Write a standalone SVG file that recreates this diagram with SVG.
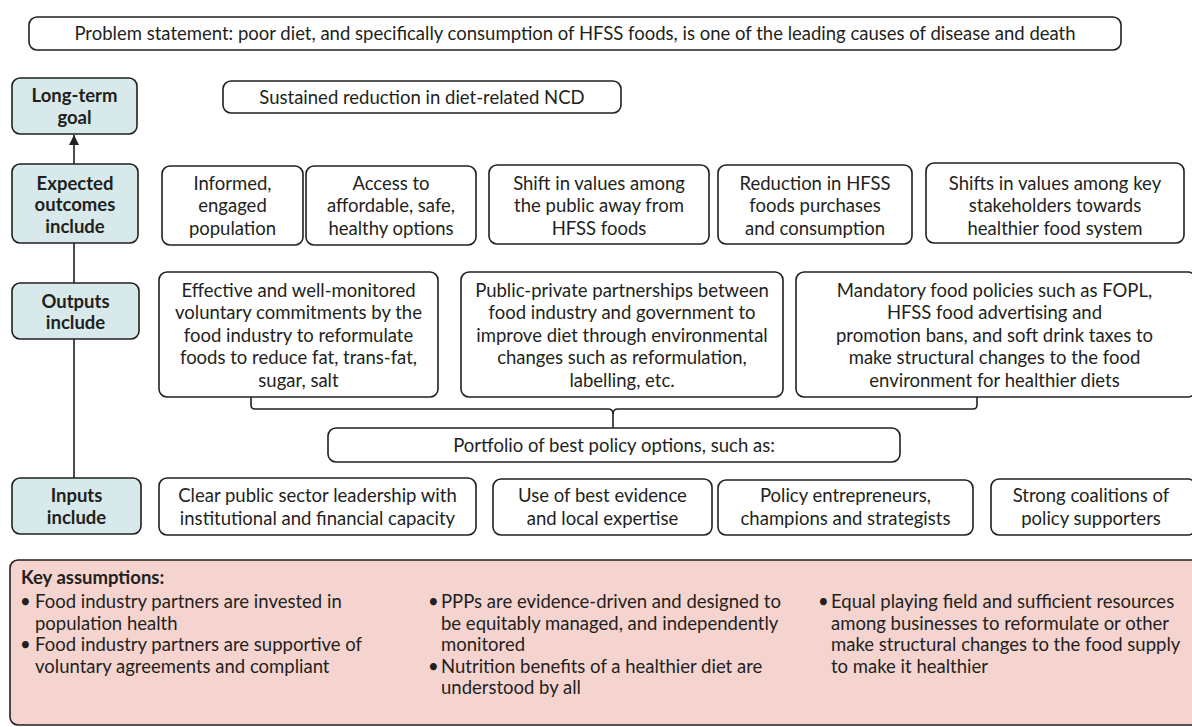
<svg xmlns="http://www.w3.org/2000/svg" width="1192" height="727" viewBox="0 0 1192 727">
<defs>
<style>
.box{fill:#fff;stroke:#231f20;stroke-width:1.6}
.lbl{fill:#d7e9ea;stroke:#231f20;stroke-width:1.6}
.ka{fill:#f5d4d0;stroke:#231f20;stroke-width:1.6}
.t{font-family:Lato,"Liberation Sans",sans-serif;font-size:18.5px;fill:#231f20;text-anchor:middle}
.b{font-family:Lato,"Liberation Sans",sans-serif;font-size:18.5px;font-weight:bold;fill:#231f20;text-anchor:middle}
.k{font-family:Lato,"Liberation Sans",sans-serif;font-size:18.5px;fill:#231f20}
.kb{font-family:Lato,"Liberation Sans",sans-serif;font-size:18.5px;font-weight:bold;fill:#231f20}
.ln{fill:none;stroke:#231f20;stroke-width:1.6}
</style>
<marker id="ah" viewBox="0 0 10 10" refX="10" refY="5" markerWidth="10" markerHeight="10" markerUnits="userSpaceOnUse" orient="auto">
<path d="M0,0 L10,5 L0,10 z" fill="#231f20"/>
</marker>
</defs>
<rect width="1192" height="727" fill="#fff"/>

<g id="connectors">
<line class="ln" x1="74" y1="164" x2="74" y2="135" marker-end="url(#ah)"/>
<line class="ln" x1="74" y1="243" x2="74" y2="283"/>
<line class="ln" x1="74" y1="339" x2="74" y2="478"/>
<path class="ln" d="M251,397 V405 Q251,409 255,409 H608 Q613,409 613,414 Q613,409 618,409 H973 Q977,409 977,405 V397"/>
<line class="ln" x1="613" y1="413" x2="613" y2="428"/>
</g>

<g id="problem">
<rect class="box" x="29" y="17" width="1092" height="33" rx="8"/>
<text class="t" x="575" y="40">Problem statement: poor diet, and specifically consumption of HFSS foods, is one of the leading causes of disease and death</text>
</g>

<g id="label-goal">
<rect class="lbl" x="12" y="78" width="125" height="56" rx="8"/>
<text class="b" x="74.5" y="101.5">Long-term</text>
<text class="b" x="74.5" y="123.5">goal</text>
</g>
<g id="label-outcomes">
<rect class="lbl" x="12" y="164" width="126" height="79" rx="8"/>
<text class="b" x="75" y="189.5">Expected</text>
<text class="b" x="75" y="211">outcomes</text>
<text class="b" x="75" y="232.5">include</text>
</g>
<g id="label-outputs">
<rect class="lbl" x="12" y="283" width="127" height="56" rx="8"/>
<text class="b" x="75.5" y="307.5">Outputs</text>
<text class="b" x="75.5" y="329">include</text>
</g>
<g id="label-inputs">
<rect class="lbl" x="12" y="478" width="129" height="56" rx="8"/>
<text class="b" x="76.5" y="501.5">Inputs</text>
<text class="b" x="76.5" y="523.5">include</text>
</g>

<g id="goal">
<rect class="box" x="223" y="81" width="398" height="32" rx="8"/>
<text class="t" x="422" y="103.5">Sustained reduction in diet-related NCD</text>
</g>

<g id="out1">
<rect class="box" x="162" y="166" width="141" height="79" rx="8"/>
<text class="t" x="232.5" y="189.5">Informed,</text>
<text class="t" x="232.5" y="212">engaged</text>
<text class="t" x="232.5" y="234.5">population</text>
</g>
<g id="out2">
<rect class="box" x="306" y="166" width="170" height="79" rx="8"/>
<text class="t" x="391" y="189.5">Access to</text>
<text class="t" x="391" y="212">affordable, safe,</text>
<text class="t" x="391" y="234.5">healthy options</text>
</g>
<g id="out3">
<rect class="box" x="489" y="165" width="220" height="79" rx="8"/>
<text class="t" x="599" y="189.5">Shift in values among</text>
<text class="t" x="599" y="212">the public away from</text>
<text class="t" x="599" y="234.5">HFSS foods</text>
</g>
<g id="out4">
<rect class="box" x="718" y="165" width="194" height="79" rx="8"/>
<text class="t" x="815" y="189.5">Reduction in HFSS</text>
<text class="t" x="815" y="212">foods purchases</text>
<text class="t" x="815" y="234.5">and consumption</text>
</g>
<g id="out5">
<rect class="box" x="926" y="163" width="258" height="80" rx="8"/>
<text class="t" x="1055" y="189.5">Shifts in values among key</text>
<text class="t" x="1055" y="212">stakeholders towards</text>
<text class="t" x="1055" y="234.5">healthier food system</text>
</g>

<g id="output1">
<rect class="box" x="159" y="272" width="279" height="125" rx="8"/>
<text class="t" x="298.5" y="296.5">Effective and well-monitored</text>
<text class="t" x="298.5" y="319">voluntary commitments by the</text>
<text class="t" x="298.5" y="341.5">food industry to reformulate</text>
<text class="t" x="298.5" y="364">foods to reduce fat, trans-fat,</text>
<text class="t" x="298.5" y="386.5">sugar, salt</text>
</g>
<g id="output2">
<rect class="box" x="461" y="272" width="322" height="125" rx="8"/>
<text class="t" x="622" y="296.5">Public-private partnerships between</text>
<text class="t" x="622" y="319">food industry and government to</text>
<text class="t" x="622" y="341.5">improve diet through environmental</text>
<text class="t" x="622" y="364">changes such as reformulation,</text>
<text class="t" x="622" y="386.5">labelling, etc.</text>
</g>
<g id="output3">
<rect class="box" x="796" y="272" width="400" height="125" rx="8"/>
<text class="t" x="994.5" y="296.5">Mandatory food policies such as FOPL,</text>
<text class="t" x="994.5" y="319">HFSS food advertising and</text>
<text class="t" x="994.5" y="341.5">promotion bans, and soft drink taxes to</text>
<text class="t" x="994.5" y="364">make structural changes to the food</text>
<text class="t" x="994.5" y="386.5">environment for healthier diets</text>
</g>

<g id="portfolio">
<rect class="box" x="328" y="428" width="572" height="34" rx="8"/>
<text class="t" x="614" y="451.5">Portfolio of best policy options, such as:</text>
</g>

<g id="in1">
<rect class="box" x="159" y="478" width="317" height="57" rx="8"/>
<text class="t" x="317.5" y="501.5">Clear public sector leadership with</text>
<text class="t" x="317.5" y="524.5">institutional and financial capacity</text>
</g>
<g id="in2">
<rect class="box" x="493" y="479" width="219" height="56" rx="8"/>
<text class="t" x="602.5" y="501.5">Use of best evidence</text>
<text class="t" x="602.5" y="524.5">and local expertise</text>
</g>
<g id="in3">
<rect class="box" x="718" y="480" width="255" height="55" rx="8"/>
<text class="t" x="845.5" y="501.5">Policy entrepreneurs,</text>
<text class="t" x="845.5" y="524.5">champions and strategists</text>
</g>
<g id="in4">
<rect class="box" x="991" y="479" width="205" height="56" rx="8"/>
<text class="t" x="1091" y="501.5">Strong coalitions of</text>
<text class="t" x="1091" y="524.5">policy supporters</text>
</g>

<g id="assumptions">
<rect class="ka" x="10" y="560" width="1190" height="165" rx="8"/>
<text class="kb" x="21" y="584">Key assumptions:</text>
<text class="k" x="20" y="608">•</text>
<text class="k" x="35" y="608">Food industry partners are invested in</text>
<text class="k" x="35" y="629.5">population health</text>
<text class="k" x="20" y="651">•</text>
<text class="k" x="35" y="651">Food industry partners are supportive of</text>
<text class="k" x="35" y="672.5">voluntary agreements and compliant</text>
<text class="k" x="428" y="608">•</text>
<text class="k" x="441" y="608">PPPs are evidence-driven and designed to</text>
<text class="k" x="441" y="629.5">be equitably managed, and independently</text>
<text class="k" x="441" y="651">monitored</text>
<text class="k" x="428" y="672.5">•</text>
<text class="k" x="441" y="672.5">Nutrition benefits of a healthier diet are</text>
<text class="k" x="441" y="694">understood by all</text>
<text class="k" x="818" y="608">•</text>
<text class="k" x="831" y="608">Equal playing field and sufficient resources</text>
<text class="k" x="831" y="629.5">among businesses to reformulate or other</text>
<text class="k" x="831" y="651">make structural changes to the food supply</text>
<text class="k" x="831" y="672.5">to make it healthier</text>
</g>
</svg>
